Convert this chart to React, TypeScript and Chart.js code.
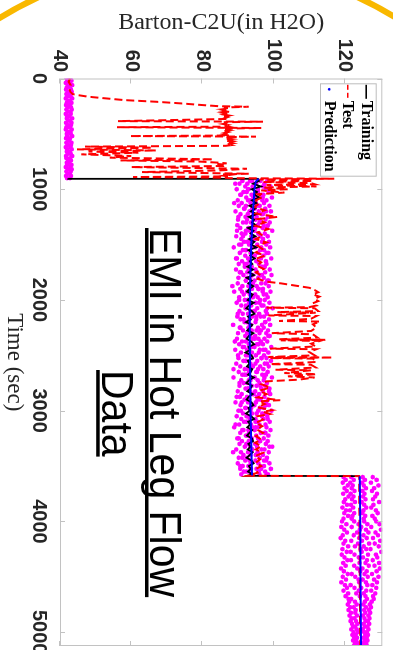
import React, { useEffect, useRef } from "react";
import { Chart, registerables } from "chart.js";

Chart.register(...registerables);

// ---------- axes ----------
const timeTicks = [0, 1000, 2000, 3000, 4000, 5000];
const valueTicks = [40, 60, 80, 100, 120];
const timeRange = [0, 5125];
const valueRange = [40, 130.5];
const seriesLabels = ["Training", "Test", "Prediction"];
const titleLines = ["EMI in Hot Leg Flow", "Data"];

// ---------- Training (black) ----------
const trainingJumpT = [902, 906];
const trainingJumpV = [42.3, 95.6];
const trainingStart = 925;
const trainingStep = 25;
const trainingV = [
  95.9, 94.2, 96.4, 93.8, 95.3, 94.6, 96.0, 93.9, 95.1,
  93.2, 94.8, 93.6, 95.2, 93.0, 94.5, 93.9, 95.0, 92.8, 94.3, 93.5, 94.9, 93.1, 94.6, 93.7, 95.1, 92.9, 94.2, 93.4, 94.7, 93.3, 94.0,
  92.6, 94.2, 93.0, 94.5, 92.4, 93.8, 92.9, 94.3, 93.2, 92.5, 94.1, 93.6, 92.7, 94.4, 93.1, 92.3, 93.9, 94.6, 92.8, 93.5,
  92.2, 94.0, 93.3, 92.6, 94.3, 93.0, 92.4, 93.7, 94.5, 92.9, 93.4, 92.1, 93.8, 94.2, 92.7, 93.2, 92.5, 94.0, 93.6, 92.8,
  94.4, 93.1, 92.3, 93.9, 93.5, 92.6, 94.1, 93.0, 92.4, 93.8, 94.3, 92.9, 93.3, 92.2, 93.7, 94.5, 92.8, 93.4, 92.6, 94.0,
  93.2, 92.5, 93.9, 94.2, 92.9, 93.5, 92.7, 94.1, 93.3, 92.4, 93.8, 94.4, 93.0, 93.6, 92.8, 94.0,
];
const trainingEndT = [3588, 3591];
const trainingEndV = [92.6, 124.2];

// ---------- Test (red dashed) ----------
const testT = [
  0, 30, 60, 90, 120, 140, 150, 165, 180, 195, 210, 225, 240, 250, 255, 262, 270, 278, 286, 294,
  302, 310, 318, 326, 334, 342, 350, 358, 365, 385, 390, 395, 403, 411, 419, 427, 435, 440, 447, 452,
  460, 468, 476, 484, 492, 500, 508, 515, 520, 525, 530, 538, 546, 554, 562, 570, 578, 586, 594, 602,
  608, 615, 625, 640, 650, 660, 670, 685, 700, 715, 730, 740, 750, 760, 766, 772, 778, 790, 800, 815,
  830, 845, 860, 866, 872, 878, 884, 890, 896, 900,
  905, 912, 925, 935, 945, 955, 962, 975, 985, 1000, 1010, 1030, 1045, 1070, 1100, 1130, 1160, 1190, 1220, 1250,
  1270, 1300, 1330, 1360, 1390, 1420, 1450, 1480, 1510, 1540, 1570, 1600, 1630, 1660, 1690, 1720, 1750, 1780, 1810, 1835,
  1850, 1865, 1880, 1890, 1910, 1930, 1950, 1970, 1990, 2010, 2030, 2050, 2065, 2070, 2075, 2100, 2110, 2115, 2140, 2145,
  2170, 2190, 2195, 2220, 2250, 2280, 2300, 2310, 2340, 2355, 2360, 2365, 2370, 2395, 2420, 2440, 2445, 2470, 2500, 2515,
  2520, 2525, 2530, 2560, 2580, 2585, 2610, 2630, 2635, 2660, 2670, 2690, 2700, 2720, 2735, 2760, 2790, 2820, 2850, 2880,
  2905, 2915, 2940, 2970, 2995, 3010, 3030, 3050, 3080, 3110, 3140, 3170, 3200, 3230, 3260, 3290, 3320, 3350, 3380, 3410,
  3440, 3470, 3500, 3530, 3560, 3588, 3591, 5125,
];
const testV = [
  42.8, 42.4, 43.0, 42.6, 42.9, 43.5, 45.0, 48.0, 53.0, 58.0, 67.0, 74.0, 80.0, 84.5, 93.0, 86.0, 87.5, 85.6, 87.2, 85.9,
  87.6, 85.7, 87.1, 86.0, 87.4, 85.8, 87.0, 86.3, 87.3, 56.3, 97.0, 86.0, 87.4, 85.8, 87.1, 86.1, 87.3, 56.0, 96.5, 86.8,
  85.9, 87.5, 86.0, 87.2, 86.2, 87.6, 86.1, 87.4, 59.6, 95.0, 86.5, 88.0, 86.4, 88.2, 86.6, 88.3, 86.9, 88.4, 87.0, 88.0,
  86.5, 47.0, 66.0, 44.8, 67.0, 48.0, 62.0, 46.0, 60.0, 54.0, 83.0, 57.0, 79.0, 84.5, 86.8, 84.2, 86.5, 86.0, 60.0, 92.5,
  85.0, 63.0, 93.0, 85.8, 87.4, 86.0, 87.2, 60.5, 86.2, 87.3,
  117.0, 96.0, 111.0, 97.0, 110.5, 111.5, 98.0, 112.0, 97.0, 104.0, 96.5, 103.0, 95.5, 97.0, 95.0, 96.0, 94.5, 97.5, 95.0, 101.0,
  95.5, 97.5, 94.8, 98.5, 95.5, 97.0, 95.0, 98.0, 95.5, 96.8, 95.0, 97.5, 94.8, 96.5, 95.2, 97.2, 95.0, 96.5, 95.5, 98.0,
  102.0, 105.0, 108.0, 110.0, 111.5, 112.5, 111.0, 112.8, 111.5, 112.5, 111.0, 112.0, 110.0, 98.0, 111.5, 112.5, 101.0, 111.8, 98.5, 112.0,
  110.5, 101.5, 113.0, 111.0, 112.0, 110.5, 99.5, 111.0, 112.3, 101.5, 114.5, 102.0, 113.0, 110.5, 111.8, 99.0, 112.0, 110.0, 111.5, 98.5,
  116.5, 99.0, 111.0, 112.0, 99.0, 110.5, 111.8, 100.5, 110.5, 103.0, 112.0, 104.0, 111.5, 107.0, 98.0, 96.5, 99.0, 96.0, 98.0, 95.5,
  101.8, 96.0, 97.5, 95.5, 99.5, 97.0, 99.0, 95.5, 97.0, 95.0, 96.8, 95.2, 97.0, 95.0, 96.5, 94.8, 96.5, 95.0, 97.0, 94.8,
  96.2, 95.0, 96.5, 94.8, 95.5, 92.6, 124.0, 124.3,
];

// ---------- Prediction (blue) ----------
const predictionT = [905, 930, 1000, 1200, 1500, 1800, 2100, 2400, 2700, 3000, 3300, 3585, 3588, 3592, 4000, 4500, 5125];
const predictionV = [95.8, 95.0, 94.6, 94.2, 93.7, 93.4, 93.3, 93.3, 93.4, 93.5, 93.7, 93.9, null, 124.2, 124.3, 124.4, 124.5];

// ---------- prediction samples (magenta) ----------
const earlyStart = 0;
const earlyStep = 20;
const earlyLow = [
  41.8, 42.1, 41.6, 42.3, 41.9, 41.7, 42.2, 41.8, 42.0, 41.6, 42.3, 41.9, 41.7, 42.1, 41.8, 42.2, 41.6, 42.0, 41.9, 42.3,
  41.7, 42.1, 41.8, 41.6, 42.2, 41.9, 42.0, 41.7, 42.3, 41.8, 42.1, 41.6, 42.0, 41.9, 42.2, 41.7, 41.8, 42.3, 41.9, 42.0,
  41.6, 42.2, 41.8, 42.1, 41.7, 42.0,
];
const earlyHigh = [
  42.9, 43.2, 42.7, 43.4, 42.8, 43.1, 43.3, 42.6, 43.0, 43.4, 42.8, 43.2, 42.7, 43.1, 43.3, 42.9, 43.0, 42.6, 43.4, 42.8,
  43.2, 43.1, 42.7, 43.3, 42.9, 43.0, 43.4, 42.8, 42.6, 43.2, 43.1, 42.9, 43.3, 42.7, 43.0, 43.4, 42.8, 43.1, 42.6, 43.2,
  42.9, 43.3, 43.0, 42.7, 43.1, 42.8,
];

const midStart = 925;
const midStep = 25;
const midA = [
  91.2, 90.4, 92.0, 89.6, 91.5, 90.8, 92.3, 89.9, 91.0, 90.2, 91.8, 89.3, 90.7, 92.1, 90.0, 91.4, 89.8, 90.6, 92.2, 91.0,
  89.5, 90.9, 91.7, 90.3, 88.8, 91.3, 90.5, 92.0, 89.7, 91.1, 90.2, 91.9, 89.4, 90.8, 91.5, 90.1, 92.2, 89.9, 91.2, 90.6,
  88.9, 91.6, 90.3, 91.9, 89.6, 90.9, 92.1, 90.4, 91.3, 89.8, 90.7, 91.8, 88.6, 90.5, 91.4, 90.0, 92.0, 89.7, 91.1, 90.3,
  91.7, 89.2, 90.8, 92.2, 90.1, 91.5, 89.5, 90.6, 91.9, 90.2, 91.2, 88.7, 90.9, 91.6, 90.4, 92.1, 89.9, 91.0, 90.5, 91.8,
  89.3, 90.7, 92.0, 90.1, 91.4, 89.6, 90.9, 91.7, 90.3, 88.9, 91.2, 90.6, 92.2, 89.8, 91.1, 90.4, 91.9, 89.5, 90.8, 91.5,
  90.2, 92.0, 89.9, 91.3, 90.6, 91.6, 90.9,
];
const midB = [
  93.4, 92.6, 94.1, 93.0, 92.4, 93.8, 94.3, 92.8, 93.5, 92.2, 94.0, 93.2, 92.7, 93.9, 92.5, 93.6, 94.2, 92.9, 93.3, 92.1,
  93.7, 94.4, 92.6, 93.1, 93.9, 92.3, 93.5, 94.0, 92.8, 93.2, 92.4, 93.8, 93.0, 92.6, 94.1, 93.4, 92.2, 93.6, 92.9, 93.9,
  92.5, 93.3, 94.2, 92.7, 93.1, 93.7, 92.3, 93.5, 92.8, 94.0, 93.2, 92.4, 93.6, 92.9, 93.8, 92.6, 93.4, 94.1, 92.2, 93.0,
  93.7, 92.5, 93.3, 92.8, 93.9, 92.4, 93.5, 94.2, 92.7, 93.1, 92.3, 93.6, 93.0, 92.6, 93.8, 92.9, 93.4, 94.0, 92.5, 93.2,
  92.8, 93.7, 92.2, 93.5, 93.9, 92.7, 93.3, 92.4, 93.6, 94.1, 92.9, 93.1, 92.6, 93.8, 93.0, 92.3, 93.4, 94.0, 92.8, 93.5,
  92.5, 93.2, 93.7, 92.9, 93.6, 93.1, 93.8,
];
const midC = [
  96.3, 95.1, 97.0, 95.6, 94.8, 96.5, 95.3, 96.8, 95.0, 96.1, 94.7, 95.8, 96.6, 95.2, 94.9, 96.0, 95.5, 96.9, 94.6, 95.7,
  96.3, 95.0, 96.7, 95.4, 94.8, 96.2, 95.6, 94.7, 96.4, 95.1, 95.9, 96.8, 94.9, 95.3, 96.1, 95.7, 94.6, 96.5, 95.2, 95.8,
  96.9, 94.8, 95.5, 96.2, 95.0, 96.6, 95.4, 94.7, 95.9, 96.3, 95.1, 94.9, 96.7, 95.6, 95.2, 96.0, 94.8, 95.7, 96.4, 95.3,
  94.6, 96.1, 95.8, 95.0, 96.6, 95.4, 94.9, 96.2, 95.6, 95.1, 96.8, 94.7, 95.5, 96.0, 95.2, 96.5, 94.8, 95.9, 95.3, 96.3,
  95.0, 94.6, 96.1, 95.7, 95.2, 96.7, 94.9, 95.4, 96.0, 95.8, 94.7, 96.4, 95.1, 95.6, 96.2, 94.8, 95.3, 96.6, 95.5, 95.0,
  96.1, 94.9, 95.7, 96.3, 95.2, 95.8, 96.0,
];
const midD = [
  98.2, 97.4, 99.1, 97.8, 98.6, 97.1, 99.5, 98.0, 97.3, 98.8, 97.6, 99.2, 97.0, 98.4, 97.7, 98.9, 97.2, 98.1, 99.6, 97.5,
  98.3, 97.0, 98.7, 97.9, 99.0, 97.3, 98.5, 97.1, 99.3, 97.8, 98.0, 97.4, 98.9, 97.6, 99.4, 97.2, 98.2, 97.7, 98.6, 97.0,
  99.1, 97.9, 98.3, 97.5, 98.8, 97.1, 99.7, 97.8, 98.1, 97.3, 98.7, 97.6, 99.0, 97.2, 98.4, 97.9, 98.9, 97.4, 98.2, 97.0,
  99.3, 97.7, 98.5, 97.3, 98.0, 99.2, 97.5, 98.6, 97.1, 98.3, 97.8, 99.5, 97.2, 98.1, 97.6, 98.8, 97.0, 99.0, 97.4, 98.4,
  97.9, 98.7, 97.3, 99.4, 97.6, 98.2, 97.1, 98.9, 97.7, 98.0, 99.1, 97.5, 98.5, 97.2, 98.3, 97.8, 99.6, 97.4, 98.6, 97.0,
  98.1, 97.9, 98.8, 97.3, 99.2, 97.6, 98.4,
];
const midE = [
  94.0, 89.2, 97.3, 92.8, 95.6, 90.6, 96.9, 93.4, 88.9, 95.2, 91.7, 97.8, 94.3, 90.1, 96.2, 92.3, 98.4, 94.8, 89.7, 95.9,
  91.4, 97.0, 93.6, 90.9, 96.5, 92.0, 98.0, 94.6, 89.4, 95.4, 91.9, 97.5, 93.1, 90.5, 96.7, 92.6, 98.6, 94.2, 88.4, 95.7,
  91.1, 97.2, 93.8, 90.3, 96.0, 92.2, 98.2, 94.5, 89.9, 95.1, 91.6, 97.6, 93.3, 90.7, 96.4, 92.5, 98.5, 94.7, 89.1, 95.8,
  91.3, 97.1, 93.9, 90.0, 96.6, 92.1, 98.1, 94.1, 88.7, 95.3, 91.8, 97.4, 93.5, 90.4, 96.3, 92.7, 98.7, 94.4, 89.6, 95.5,
  91.0, 97.9, 93.7, 90.8, 96.8, 92.4, 98.3, 94.9, 89.3, 95.0, 91.5, 97.7, 93.2, 90.2, 96.1, 92.9, 98.8, 94.0, 88.6, 95.6,
  91.2, 97.3, 93.6, 90.6, 96.5, 92.3, 98.0,
];

const lateStart = 3600;
const lateStep = 25;
const lateA = [
  119.6, 120.2, 119.4, 120.8, 119.9, 120.5, 119.5, 121.0, 120.1, 119.7, 120.6, 119.3, 120.3, 119.8, 120.9, 119.6,
  119.2, 120.4, 119.0, 119.8, 120.6, 119.4, 118.8, 120.1, 119.6, 120.9, 119.3, 120.5, 119.1, 119.9, 120.7, 119.5, 120.2, 118.9, 119.7,
  120.8, 119.4, 120.3, 119.0, 120.0, 120.6, 119.6, 120.9, 120.2, 121.0,
  121.2, 120.8, 121.5, 121.0, 121.7, 121.3, 121.9, 121.6, 122.0, 122.3, 121.8, 122.4, 122.1, 122.6, 122.3, 122.8, 122.5,
];
const lateB = [
  121.8, 122.5, 121.5, 122.2, 121.9, 122.7, 121.6, 122.4, 122.0, 122.8, 121.7, 122.3, 121.4, 122.6, 122.1, 121.9,
  122.6, 123.8, 121.9, 124.2, 123.4, 122.5, 124.0, 121.8, 123.7, 122.8, 124.4, 121.6, 122.7, 123.9, 121.7, 124.1, 122.6, 123.5, 124.3,
  121.9, 122.9, 123.8, 124.0, 121.6, 122.7, 123.9, 123.2, 124.2, 121.8,
  122.8, 123.3, 122.5, 123.0, 122.9, 123.4, 122.7, 123.1, 123.5, 122.9, 123.3, 123.6, 123.0, 123.4, 123.2, 123.7, 123.3,
];
const lateC = [
  125.0, 125.6, 124.8, 125.3, 125.9, 124.9, 125.5, 125.1, 125.8, 124.7, 125.4, 126.0, 125.2, 124.9, 125.7, 125.3,
  125.4, 126.3, 124.6, 125.9, 126.6, 125.2, 126.1, 124.8, 126.8, 125.3, 126.0, 124.7, 126.5, 125.1, 126.2, 125.8, 126.7, 124.9, 126.1,
  125.5, 126.4, 125.0, 125.9, 126.3, 124.6, 126.0, 125.3, 125.8, 126.2,
  125.6, 125.2, 125.9, 125.4, 125.7, 125.1, 125.5, 125.8, 125.3, 125.6, 125.0, 125.4, 125.7, 125.2, 125.5, 125.1, 125.3,
];
const lateD = [
  127.8, 128.9, 127.3, 129.4, 128.2, 127.6, 129.0, 128.5, 127.9, 129.6, 128.0, 127.4, 128.7, 129.2, 127.7, 128.4,
  128.8, 129.7, 127.4, 130.1, 128.6, 129.3, 127.9, 129.9, 128.4, 129.5, 127.2, 130.2, 128.7, 129.1, 127.8, 129.6, 128.3, 129.8, 128.9,
  127.6, 129.4, 128.2, 129.0, 127.7, 128.8, 127.4, 128.5, 127.9, 128.1,
  127.5, 127.0, 127.3, 126.8, 127.1, 126.6, 126.9, 126.5, 126.8, 126.3, 126.6, 126.2, 126.5, 126.1, 126.3, 126.0, 126.2,
];

// ---------- helpers ----------
const pairs = (ts: number[], vs: (number | null)[]) => ts.map((t, i) => ({ x: t, y: vs[i] }));
const regular = (start: number, step: number, vs: number[]) => vs.map((v, i) => ({ x: start + i * step, y: v }));

const FONT_TICK = { family: '"Liberation Sans", Arial, sans-serif', size: 20, weight: "bold" as const };
const INK = "#262626";

const boxPlugin = {
  id: "matlabBox",
  afterDatasetsDraw(chart: any) {
    const { ctx, chartArea: a, scales } = chart;
    const xs = scales.x;
    const ys = scales.y;
    ctx.save();
    ctx.strokeStyle = "#c2c2c2";
    ctx.lineWidth = 1;
    ctx.strokeRect(a.left + 0.5, a.top + 0.5, a.right - a.left - 1, a.bottom - a.top - 1);
    ctx.beginPath();
    xs.ticks.forEach((t: any) => {
      const p = Math.round(xs.getPixelForValue(t.value)) + 0.5;
      ctx.moveTo(p, a.bottom);
      ctx.lineTo(p, a.bottom - 5);
      ctx.moveTo(p, a.top);
      ctx.lineTo(p, a.top + 5);
    });
    ys.ticks.forEach((t: any) => {
      const p = Math.round(ys.getPixelForValue(t.value)) + 0.5;
      ctx.moveTo(a.left, p);
      ctx.lineTo(a.left + 5, p);
      ctx.moveTo(a.right, p);
      ctx.lineTo(a.right - 5, p);
    });
    ctx.stroke();
    ctx.restore();
  },
};

const legendPlugin = {
  id: "innerLegend",
  afterDraw(chart: any) {
    const { ctx, chartArea: a } = chart;
    const x0 = a.left + 4.8;
    const y0 = a.top + 5.6;
    const w = 93.4;
    const h = 56.7;
    ctx.save();
    ctx.fillStyle = "#ffffff";
    ctx.fillRect(x0, y0, w, h);
    ctx.strokeStyle = "#bdbdbd";
    ctx.lineWidth = 1;
    ctx.strokeRect(x0 + 0.5, y0 + 0.5, w - 1, h - 1);
    const rows = [15, 33.5, 52];
    ctx.font = 'bold 16px "Liberation Serif", "Times New Roman", serif';
    ctx.textBaseline = "alphabetic";
    seriesLabels.forEach((label, i) => {
      const ds = chart.data.datasets.find((d: any) => d.label === label);
      const yb = y0 + rows[i];
      const ym = yb - 4.5;
      if (label === "Prediction") {
        ctx.fillStyle = ds.borderColor;
        ctx.beginPath();
        ctx.arc(x0 + 6, ym, 1.4, 0, Math.PI * 2);
        ctx.fill();
      } else {
        ctx.strokeStyle = ds.borderColor;
        ctx.lineWidth = 1.6;
        ctx.setLineDash(label === "Test" ? [5, 3] : []);
        ctx.beginPath();
        ctx.moveTo(x0 + 1.5, ym);
        ctx.lineTo(x0 + 15.5, ym);
        ctx.stroke();
        ctx.setLineDash([]);
      }
      ctx.fillStyle = "#000000";
      ctx.fillText(label, x0 + 17.5, yb);
    });
    ctx.restore();
  },
};

const overlayPlugin = {
  id: "overlayTitle",
  afterDraw(chart: any) {
    const { ctx } = chart;
    const spots = [
      { x: 228, base: 243, line: 244.5 },
      { x: 370, base: 291.3, line: 293.3 },
    ];
    ctx.save();
    ctx.font = '41px "Liberation Sans", Arial, sans-serif';
    ctx.fillStyle = "#000000";
    ctx.textBaseline = "alphabetic";
    titleLines.forEach((txt, i) => {
      const s = spots[i];
      const wd = ctx.measureText(txt).width;
      ctx.save();
      ctx.translate(s.x, s.base);
      ctx.scale(1, 1.1);
      ctx.fillText(txt, 0, 0);
      ctx.restore();
      ctx.fillRect(s.x, s.line, wd, 3.5);
    });
    ctx.restore();
  },
};

export default function App() {
  const ref = useRef<HTMLCanvasElement | null>(null);

  useEffect(() => {
    if (!ref.current) return;
    const training = [
      ...pairs(trainingJumpT, trainingJumpV),
      ...regular(trainingStart, trainingStep, trainingV),
      ...pairs(trainingEndT, trainingEndV),
    ];
    const test = pairs(testT, testV);
    const prediction = pairs(predictionT, predictionV);
    const samples = [
      ...regular(earlyStart, earlyStep, earlyLow),
      ...regular(earlyStart, earlyStep, earlyHigh),
      ...regular(midStart, midStep, midA),
      ...regular(midStart, midStep, midB),
      ...regular(midStart, midStep, midC),
      ...regular(midStart, midStep, midD),
      ...regular(midStart, midStep, midE),
      ...regular(lateStart, lateStep, lateA),
      ...regular(lateStart, lateStep, lateB),
      ...regular(lateStart, lateStep, lateC),
      ...regular(lateStart, lateStep, lateD),
    ];

    const chart = new Chart(ref.current, {
      type: "line",
      data: {
        datasets: [
          {
            label: "Training",
            data: training,
            borderColor: "#000000",
            borderWidth: 1.8,
            pointRadius: 0,
            order: 2,
          },
          {
            label: "Test",
            data: test,
            borderColor: "#ff0000",
            borderWidth: 2,
            borderDash: [8, 4],
            pointRadius: 0,
            order: 1,
          },
          {
            label: "Prediction",
            data: prediction,
            borderColor: "#0000ff",
            borderWidth: 2,
            pointRadius: 0,
            spanGaps: false,
            order: 0,
          },
          {
            label: "Samples",
            data: samples,
            showLine: false,
            pointRadius: 2.3,
            pointBackgroundColor: "#ff00ff",
            pointBorderWidth: 0,
            borderColor: "#ff00ff",
            order: 3,
          },
        ] as any,
      },
      options: {
        responsive: false,
        animation: false,
        events: [],
        layout: { padding: { top: 10.7, right: 3.5, left: 0, bottom: 0 } },
        plugins: { legend: { display: false }, tooltip: { enabled: false } },
        scales: {
          x: {
            type: "linear",
            min: timeRange[0],
            max: timeRange[1],
            afterBuildTicks: (s: any) => {
              s.ticks = timeTicks.map((v) => ({ value: v }));
            },
            afterFit: (s: any) => {
              s.height = 60;
              s.paddingLeft = 0;
              s.paddingRight = 0;
            },
            grid: { display: false, drawTicks: false },
            border: { display: false },
            ticks: {
              autoSkip: false,
              maxRotation: 0,
              minRotation: 0,
              padding: 9,
              color: INK,
              font: FONT_TICK,
              callback: (v: any) => String(v),
            },
            title: {
              display: true,
              text: "Time (sec)",
              color: INK,
              font: { family: '"Liberation Serif", "Times New Roman", serif', size: 23 },
              padding: { top: 0, bottom: 0 },
            },
          },
          y: {
            type: "linear",
            min: valueRange[0],
            max: valueRange[1],
            afterBuildTicks: (s: any) => {
              s.ticks = valueTicks.map((v) => ({ value: v }));
            },
            afterFit: (s: any) => {
              s.width = 78.5;
              s.paddingTop = 0;
              s.paddingBottom = 0;
            },
            grid: { display: false, drawTicks: false },
            border: { display: false },
            ticks: {
              padding: 6.5,
              color: INK,
              font: FONT_TICK,
              callback: (v: any) => String(v),
            },
            title: {
              display: true,
              text: "Barton-C2U(in H2O)",
              color: INK,
              font: { family: '"Liberation Serif", "Times New Roman", serif', size: 24 },
              padding: { top: 8, bottom: 0 },
            },
          },
        },
      } as any,
      plugins: [boxPlugin, legendPlugin, overlayPlugin],
    });
    return () => chart.destroy();
  }, []);

  return (
    <div
      style={{
        position: "fixed",
        left: 0,
        top: 0,
        width: 393,
        height: 650,
        overflow: "hidden",
        background: "#ffffff",
      }}
    >
      <div
        style={{
          position: "absolute",
          left: -184,
          top: -41,
          width: 764,
          height: 764,
          borderRadius: "50%",
          border: "6px solid #f9b800",
          boxSizing: "border-box",
        }}
      />
      <div
        style={{
          position: "absolute",
          left: 0,
          top: 0,
          width: 650,
          height: 393,
          transformOrigin: "0 0",
          transform: "translateX(393px) rotate(90deg)",
        }}
      >
        <canvas ref={ref} width={650} height={393} style={{ display: "block", width: 650, height: 393 }} />
      </div>
    </div>
  );
}
